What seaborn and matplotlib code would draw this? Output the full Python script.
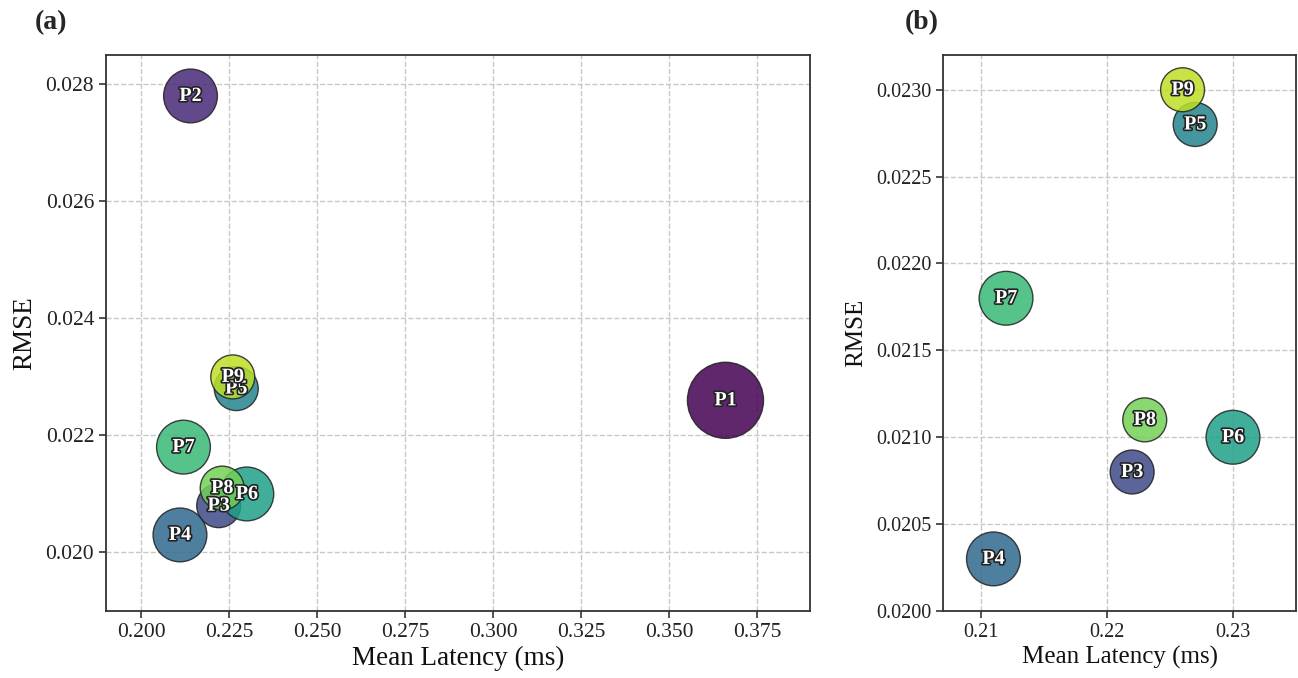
import matplotlib
matplotlib.use("Agg")
import matplotlib.pyplot as plt
import matplotlib.patheffects as pe
import matplotlib.ticker as mticker
import seaborn as sns
import pandas as pd
import numpy as np

# ---- data ----
names = ["P1", "P2", "P3", "P4", "P5", "P6", "P7", "P8", "P9"]
latency = [0.366, 0.214, 0.222, 0.211, 0.227, 0.230, 0.212, 0.223, 0.226]
rmse = [0.0226, 0.0278, 0.0208, 0.0203, 0.0228, 0.0210, 0.0218, 0.0211, 0.0230]
bubble = [3000, 1500, 1000, 1500, 1000, 1500, 1500, 1000, 1000]
zoom_names = ["P3", "P4", "P5", "P6", "P7", "P8", "P9"]

df = pd.DataFrame({"name": names, "lat": latency, "rmse": rmse, "size": bubble})
cmap = matplotlib.colormaps["viridis"]
pal = dict(zip(names, [cmap(v) for v in np.linspace(0, 0.9, len(names))]))
size_map = dict(zip(names, bubble))

sns.set_theme(style="whitegrid")
plt.rcParams["font.family"] = ["Liberation Serif", "DejaVu Serif"]
plt.rcParams["axes.edgecolor"] = "#333333"
plt.rcParams["axes.linewidth"] = 1.3

fig = plt.figure(figsize=(12.98, 6.78), dpi=100)
ax1 = fig.add_axes([0.0817, 0.0988, 0.5423, 0.8201])
ax2 = fig.add_axes([0.7265, 0.0988, 0.2720, 0.8201])


def draw(ax, d, tick_fs, label_fs):
    sns.scatterplot(data=d, x="lat", y="rmse", hue="name", palette=pal,
                    size="name", sizes=size_map, alpha=0.85,
                    edgecolor="#222222", linewidth=1.0, legend=False, ax=ax,
                    zorder=3)
    for _, r in d.iterrows():
        ax.text(r["lat"], r["rmse"], r["name"], ha="center", va="center",
                fontsize=14.5, fontweight="bold", color="white", zorder=5,
                path_effects=[pe.withStroke(linewidth=2.4, foreground="#222222")])
    ax.grid(True, linestyle="--", color="#c8c8c8", linewidth=1.0)
    ax.set_facecolor("white")
    for s in ax.spines.values():
        s.set_visible(True)
        s.set_color("#333333")
    ax.tick_params(axis="both", which="both", length=5, width=1.2,
                   direction="out", bottom=True, left=True, labelsize=tick_fs,
                   color="#333333", labelcolor="#222222")
    ax.set_xlabel("Mean Latency (ms)", fontsize=label_fs, color="#111111", labelpad=3)
    ax.set_ylabel("RMSE", fontsize=label_fs, color="#111111", labelpad=6)


draw(ax1, df, 15.5, 19.5)
ax1.set_xlim(0.19, 0.39)
ax1.set_ylim(0.019, 0.0285)
ax1.set_xticks(np.arange(0.200, 0.376, 0.025))
ax1.set_yticks([0.020, 0.022, 0.024, 0.026, 0.028])
ax1.xaxis.set_major_formatter(mticker.FormatStrFormatter("%.3f"))
ax1.yaxis.set_major_formatter(mticker.FormatStrFormatter("%.3f"))

draw(ax2, df[df["name"].isin(zoom_names)], 14.5, 18)
ax2.set_xlim(0.207, 0.235)
ax2.set_ylim(0.0200, 0.0232)
ax2.set_xticks([0.21, 0.22, 0.23])
ax2.set_yticks(np.arange(0.0200, 0.02301, 0.0005))
ax2.xaxis.set_major_formatter(mticker.FormatStrFormatter("%.2f"))
ax2.yaxis.set_major_formatter(mticker.FormatStrFormatter("%.4f"))

fig.text(0.027, 0.967, "(a)", fontsize=20, fontweight="bold", va="center", ha="left")
fig.text(0.697, 0.967, "(b)", fontsize=20, fontweight="bold", va="center", ha="left")

fig.savefig("out.png", dpi=100)
